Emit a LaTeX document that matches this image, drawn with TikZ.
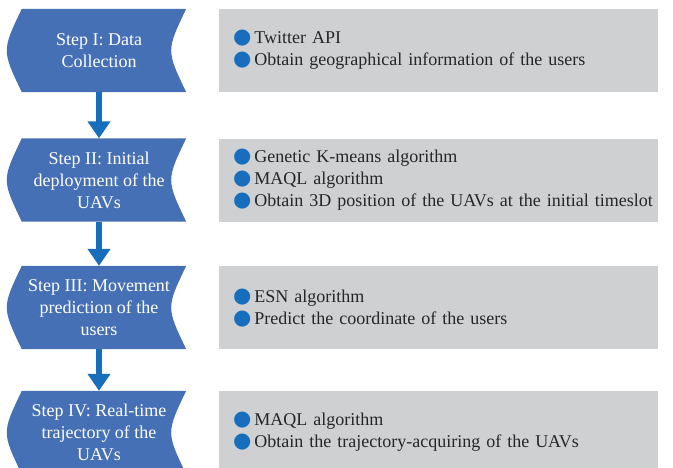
\documentclass[tikz,border=0pt]{standalone}
\usepackage{fontspec}
\setmainfont{Liberation Serif}
\newfontfamily\symfont{DejaVu Sans}
\usetikzlibrary{calc,backgrounds,arrows.meta}
\tikzset {>=Stealth}
\definecolor{stepblue}{RGB}{70,112,182}
\definecolor{arrowblue}{RGB}{22,110,188}
\definecolor{boxgray}{RGB}{207,208,210}
\definecolor{textgray}{RGB}{38,38,38}
\newcommand{\dotitem}{\hspace*{14pt}\smash{\textcolor{arrowblue}{\symfont\fontsize{21}{21}\selectfont ●}}\hspace{3pt}}
\newcommand{\stepshape}[1]{%
  \fill[stepblue] ($(#1.north west)+(10,0)$) -- (#1.north east)
    .. controls ($(#1.east)+(-20,0)$) .. (#1.south east)
    -- ($(#1.south west)+(10,0)$)
    .. controls ($(#1.west)+(-10,0)$) .. cycle;}
\tikzset{
  steptext/.style={minimum width=174pt, minimum height=83pt, inner sep=0pt,
    align=center, text=white, font=\fontsize{18}{22}\selectfont},
  infobox/.style={fill=boxgray, minimum height=83pt, inner sep=0pt,
    text width=439pt, align=left, text=textgray, font=\fontsize{18}{22}\selectfont},
  flowarrow/.style={arrowblue, line width=6pt, -{Triangle[width=22pt,length=17pt]}},
}
\begin{document}
\begin{tikzpicture}[x=1pt,y=-1pt]
\useasboundingbox (0,0) rectangle (673,467);
\clip (0,0) rectangle (673,467);

% steps
\node[steptext] (s1) at (99,50.5) {Step I: Data\\Collection};
\node[steptext] (s2) at (99,180) {Step II: Initial\\deployment of the\\UAVs};
\node[steptext] (s3) at (99,307.5) {Step III: Movement\\prediction of the\\users};
\node[steptext] (s4) at (99,432.5) {Step IV: Real-time\\trajectory of the\\UAVs};

% details
\node[infobox] (d1) at (438.5,50.5) {\dotitem Twitter API\\
  \dotitem Obtain geographical information of the users};
\node[infobox] (d2) at (438.5,180) {\dotitem Genetic K-means algorithm\\
  \dotitem MAQL algorithm\\
  \dotitem Obtain 3D position of the UAVs at the initial timeslot};
\node[infobox] (d3) at (438.5,307.5) {\dotitem ESN algorithm\\
  \dotitem Predict the coordinate of the users};
\node[infobox] (d4) at (438.5,432.5) {\dotitem MAQL algorithm\\
  \dotitem Obtain the trajectory-acquiring of the UAVs};

\begin{scope}[on background layer]
\foreach \s in {s1,s2,s3,s4}
  \stepshape{\s};
\end{scope}

\foreach \a/\b in {s1/s2,s2/s3,s3/s4}
  \draw[flowarrow] (\a) -- (\b);
\end{tikzpicture}
\end{document}
